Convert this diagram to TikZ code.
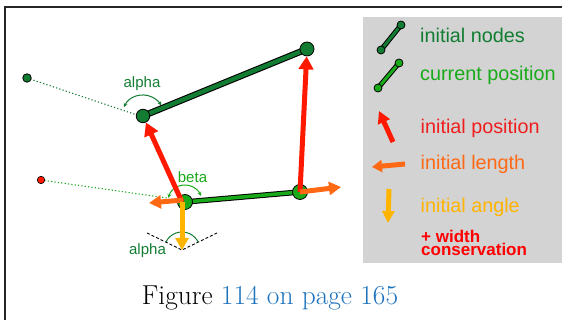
\documentclass[tikz,border=0pt]{standalone}
\usepackage{fontspec}
\newfontfamily\arial{Liberation Sans}
\usetikzlibrary{arrows.meta}
\definecolor{dkgreen}{RGB}{18,125,50}
\definecolor{ltgreen}{RGB}{25,170,25}
\definecolor{arred}{RGB}{255,25,0}
\definecolor{txred}{RGB}{240,30,30}
\definecolor{arorange}{RGB}{255,105,20}
\definecolor{aryellow}{RGB}{255,180,0}
\definecolor{legbg}{RGB}{211,211,211}
\definecolor{capblue}{RGB}{30,115,190}
\begin{document}
\begin{tikzpicture}[x=1pt,y=1pt,
  dkdot/.style={circle,draw=black,line width=0.8pt,fill=dkgreen,inner sep=0pt,minimum size=#1},
  dkdot/.default=14pt,
  ltdot/.style={circle,draw=black,line width=0.8pt,fill=ltgreen,inner sep=0pt,minimum size=#1},
  ltdot/.default=15pt,
  reddot/.style={circle,draw=black,line width=0.6pt,fill=arred,inner sep=0pt,minimum size=7.5pt},
  dotline/.style={dkgreen,line width=1.1pt,dash pattern=on 1.2pt off 2.2pt},
  dotlinelt/.style={ltgreen,line width=1.1pt,dash pattern=on 1.2pt off 2.2pt},
  redarrow/.style={arred,line width=5pt,-{Triangle[length=13pt,width=14.5pt]}},
  orarrow/.style={arorange,line width=5pt,-{Triangle[length=12pt,width=13pt]}},
  yearrow/.style={aryellow,line width=5pt,-{Triangle[length=12pt,width=13pt]}},
  anglearc/.style={line width=1pt,{Stealth[length=4pt,width=4pt]}-{Stealth[length=4pt,width=4pt]}},
  lbl/.style={font=\arial\fontsize{15}{17}\selectfont,anchor=base},
  legtext/.style={font=\arial\fontsize{19.8}{22}\selectfont,anchor=base west,inner sep=0pt},
  boldred/.style={anchor=base west,inner sep=0pt,text=red,font=\arial\bfseries\fontsize{17}{14}\selectfont}]
\useasboundingbox (0,0) rectangle (562,320);
% frame
\draw[line width=1.3pt,black!85] (5,0) -- (5,313) -- (562,313);
% legend background
\fill[legbg] (363,57) rectangle (562,303);
% coordinates
\coordinate (n1) at (307,271);
\coordinate (n2) at (143,204);
\coordinate (d1) at (27,242);
\coordinate (r1) at (41,140);
\coordinate (c1) at (185,118);
\coordinate (c2) at (300,128);
\coordinate (v) at (182,70);
\coordinate (dl) at (147,87);
\coordinate (dr) at (217,87);
\coordinate (d1end) at (137,205);
\coordinate (r1end) at (167,122);
\coordinate (orR) at (341,133);
\coordinate (orL) at (149,117);
% dotted guide lines
\draw[dotline] (d1) -- (d1end);
\draw[dotlinelt] (r1) -- (r1end);
% dashed angle lines
\draw[black,line width=0.9pt,dash pattern=on 3pt off 2pt] (dl) -- (v) -- (dr);
% angle arcs
\draw[dkgreen,anglearc] ([shift={(155:21)}]n2) arc[start angle=155,end angle=30,radius=21];
\draw[ltgreen,anglearc] ([shift={(166:17)}]c1) arc[start angle=166,end angle=21,radius=17];
\draw[dkgreen,line width=1pt] ([shift={(154:18)}]v) arc[start angle=154,end angle=26,radius=18];
% bars
\draw[black,line width=6.5pt] (n2) -- (n1);
\draw[dkgreen,line width=4.3pt] (n2) -- (n1);
\draw[black,line width=5.5pt] (c1) -- (c2);
\draw[ltgreen,line width=3.5pt] (c1) -- (c2);
% nodes
\node[dkdot] (N1) at (n1) {};
\node[dkdot=13.5pt] (N2) at (n2) {};
\node[dkdot=8.5pt] (D1) at (d1) {};
\node[reddot] (R1) at (r1) {};
\node[ltdot] (C1) at (c1) {};
\node[ltdot] (C2) at (c2) {};
% arrows
\draw[redarrow] ([xshift=-3pt]C1.center) -- (N2);
\draw[redarrow] (C2.center) -- (N1);
\draw[orarrow] (C2.center) -- (orR);
\draw[orarrow] ([xshift=-2pt,yshift=2pt]C1.center) -- (orL);
\draw[yearrow] ([xshift=-3pt]C1.center) -- (v);
% labels
\node[lbl,text=dkgreen] (la1) at (142,232.7) {alpha};
\node[lbl,text=ltgreen] (lb) at (192.5,137.3) {beta};
\node[lbl,text=dkgreen] (la2) at (147.5,65) {alpha};
% legend icons
\coordinate (i1a) at (381,270);
\coordinate (i1b) at (401,295);
\draw[black,line width=5pt] (i1a) -- (i1b);
\draw[dkgreen,line width=3pt] (i1a) -- (i1b);
\node[dkdot=8pt] (I1a) at (i1a) {};
\node[dkdot=8pt] (I1b) at (i1b) {};
\coordinate (i2a) at (378,232);
\coordinate (i2b) at (399,257);
\draw[black,line width=5pt] (i2a) -- (i2b);
\draw[ltgreen,line width=3pt] (i2a) -- (i2b);
\node[ltdot=8pt] (I2a) at (i2a) {};
\node[ltdot=8pt] (I2b) at (i2b) {};
\coordinate (i3a) at (393,178);
\coordinate (i3b) at (379,209);
\draw[arred,line width=5pt,-{Triangle[length=12pt,width=12.5pt]}] (i3a) -- (i3b);
\coordinate (i4a) at (405,156);
\coordinate (i4b) at (372,153);
\draw[arorange,line width=5pt,-{Triangle[length=10pt,width=12pt]}] (i4a) -- (i4b);
\coordinate (i5a) at (389,131);
\coordinate (i5b) at (388,97);
\draw[aryellow,line width=5pt,-{Triangle[length=12pt,width=12pt]}] (i5a) -- (i5b);
% legend texts
\node[legtext,text=dkgreen] (t1) at (420,277.3) {initial nodes};
\node[legtext,text=ltgreen] (t2) at (420,239) {current position};
\node[legtext,text=txred] (t3) at (420.5,186.7) {initial position};
\node[legtext,text=arorange] (t4) at (420.5,150) {initial length};
\node[legtext,text=aryellow] (t5) at (420.5,107) {initial angle};
\node[boldred] (t6) at (421,77.3) {+ width};
\node[boldred] (t7) at (421,64) {conservation};
% caption
\node[anchor=base,font=\fontsize{27.4}{31}\selectfont] (cap) at (270,15) {Figure \textcolor{capblue}{114 on page 165}};
\end{tikzpicture}
\end{document}
